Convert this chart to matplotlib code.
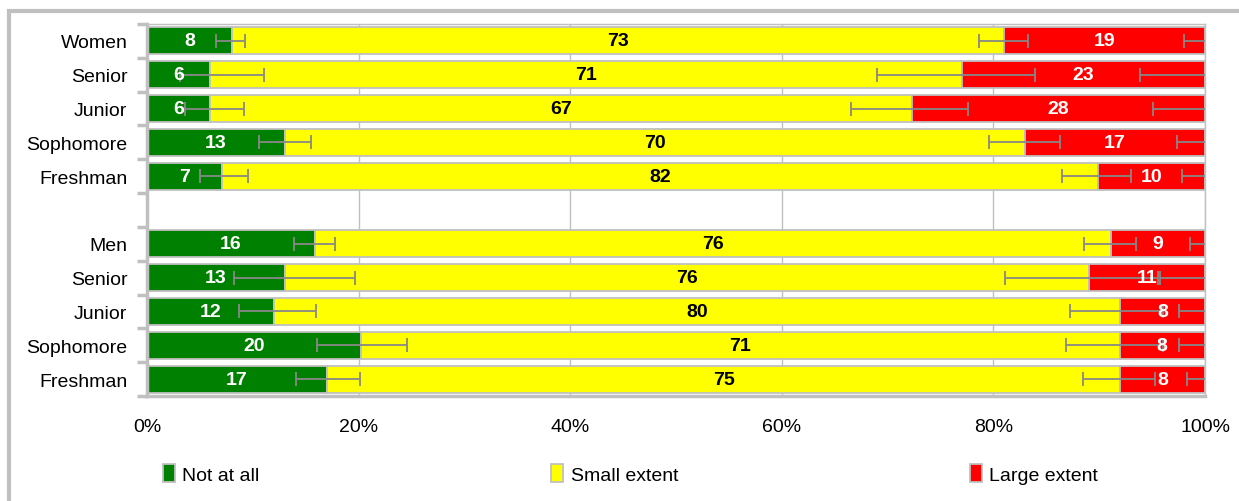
import numpy as np
import matplotlib
matplotlib.use('Agg')
import matplotlib.pyplot as plt
from matplotlib.patches import Rectangle

plt.rcParams['font.family'] = ['Liberation Sans', 'DejaVu Sans']

# --- data ---
categories = ['Women', 'Senior', 'Junior', 'Sophomore', 'Freshman',
              'Men', 'Senior', 'Junior', 'Sophomore', 'Freshman']
not_at_all = [8, 6, 6, 13, 7, 16, 13, 12, 20, 17]
small_extent = [73, 71, 67, 70, 82, 76, 76, 80, 71, 75]
large_extent = [19, 23, 28, 17, 10, 9, 11, 8, 8, 8]

# error bar ends, in % along the bar
green_lo = [6.5, 3.1, 3.6, 10.6, 5.0, 13.9, 8.2, 8.7, 16.1, 14.1]
green_hi = [9.3, 11.1, 9.2, 15.5, 9.5, 17.8, 19.7, 16.0, 24.6, 20.1]
yellow_lo = [78.6, 69.0, 66.5, 79.6, 86.5, 88.6, 81.1, 87.2, 86.9, 88.5]
yellow_hi = [83.3, 83.9, 77.6, 86.3, 93.0, 93.5, 95.6, 96.0, 96.0, 95.3]
red_lo = [98.0, 93.9, 95.1, 97.4, 97.8, 98.6, 95.7, 97.5, 97.5, 98.3]

series_names = ['Not at all', 'Small extent', 'Large extent']
colors = ['#008000', '#FFFF00', '#FF0000']
text_colors = ['white', 'black', 'white']

# row positions: women group on top, one empty slot, then men group
ypos = np.array([0, 1, 2, 3, 4, 6, 7, 8, 9, 10])

raw = np.array([not_at_all, small_extent, large_extent], dtype=float)
pct = raw / raw.sum(axis=0) * 100
cum = np.cumsum(pct, axis=0)
left = cum - pct

fig = plt.figure(figsize=(12.39, 5.02), dpi=100)
ax = fig.add_axes([147 / 1239, 1 - 397 / 502, 1058 / 1239, 372 / 502])

edge = '#c0c0c0'
for i in range(3):
    ax.barh(ypos, pct[i], left=left[i], height=0.8, color=colors[i],
            edgecolor=edge, linewidth=1.3, label=series_names[i], zorder=2)

# error bars at the right end of each segment
lo_all = [green_lo, yellow_lo, red_lo]
for i in range(3):
    end = cum[i]
    lo = np.array(lo_all[i])
    if i == 0:
        hi = np.array(green_hi)
    elif i == 1:
        hi = np.array(yellow_hi)
    else:
        hi = end + (end - lo)
    ax.errorbar(end, ypos, xerr=[end - lo, hi - end], fmt='none',
                ecolor='#888888', elinewidth=1.3, capsize=5, capthick=1.3,
                zorder=3)

# value labels
for i in range(3):
    for j, y in enumerate(ypos):
        ax.text(left[i][j] + pct[i][j] / 2, y, str(int(raw[i][j])),
                ha='center', va='center', color=text_colors[i],
                fontsize=14, fontweight='bold', zorder=4)

ax.set_xlim(0, 100)
ax.set_ylim(10.5, -0.5)
ax.set_xticks([0, 20, 40, 60, 80, 100])
ax.set_xticklabels(['0%', '20%', '40%', '60%', '80%', '100%'])
ax.tick_params(axis='x', length=0, pad=16, labelsize=14)
ax.xaxis.grid(True, color=edge, linewidth=1, zorder=0)
ax.set_axisbelow(True)

# y: tick marks on slot boundaries, labels on centers
ax.set_yticks(np.arange(-0.5, 11, 1))
ax.set_yticklabels([])
ax.tick_params(axis='y', which='major', length=7, width=2.5, color=edge)
ax.set_yticks(ypos, minor=True)
ax.set_yticklabels(categories, minor=True)
ax.tick_params(axis='y', which='minor', length=0, pad=14, labelsize=14)

for s in ['left', 'bottom']:
    ax.spines[s].set_color(edge)
    ax.spines[s].set_linewidth(2.5)
for s in ['top', 'right']:
    ax.spines[s].set_color(edge)
    ax.spines[s].set_linewidth(1)

# legend along the bottom
fig.legend(loc='center left', bbox_to_anchor=(163 / 1239, 1 - 475 / 502),
           ncol=3, frameon=False, fontsize=14, handlelength=0.6,
           handleheight=1.0, handletextpad=0.4, columnspacing=15.0,
           borderpad=0, borderaxespad=0)

# outer chart frame
fig.patches.append(Rectangle((9 / 1239, -0.1), 1.2, 0.1 + (502 - 12) / 502,
                             transform=fig.transFigure, fill=False,
                             edgecolor=edge, linewidth=3, clip_on=False))

plt.savefig('out.png', dpi=100)
